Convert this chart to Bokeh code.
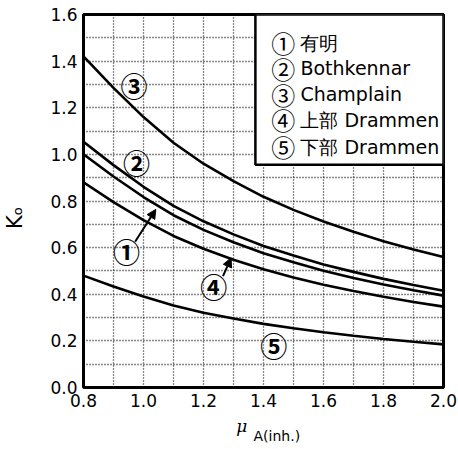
from bokeh.plotting import figure
from bokeh.models import Range1d, FixedTicker, PrintfTickFormatter, LinearAxis, Arrow, NormalHead
from bokeh.core.properties import value
from bokeh.embed import file_html
from bokeh.resources import INLINE

# ---- data ----
mu = [0.8, 0.9, 1.0, 1.1, 1.2, 1.3, 1.4, 1.5, 1.6, 1.7, 1.8, 1.9, 2.0]
k_ariake      = [1.00, 0.905, 0.817, 0.739, 0.676, 0.623, 0.576, 0.537, 0.501, 0.470, 0.442, 0.417, 0.394]
k_bothkennar  = [1.054, 0.954, 0.861, 0.779, 0.713, 0.657, 0.607, 0.566, 0.528, 0.496, 0.466, 0.440, 0.415]
k_champlain   = [1.42, 1.285, 1.16, 1.05, 0.96, 0.885, 0.818, 0.762, 0.712, 0.668, 0.627, 0.592, 0.56]
k_drammen_up  = [0.88, 0.795, 0.718, 0.65, 0.595, 0.548, 0.507, 0.472, 0.441, 0.414, 0.389, 0.367, 0.347]
k_drammen_low = [0.48, 0.433, 0.39, 0.352, 0.321, 0.296, 0.273, 0.254, 0.237, 0.222, 0.208, 0.196, 0.185]

x_ticks = [0.8, 1.0, 1.2, 1.4, 1.6, 1.8, 2.0]
y_ticks = [0.0, 0.2, 0.4, 0.6, 0.8, 1.0, 1.2, 1.4, 1.6]
x_grid = [0.9, 1.0, 1.1, 1.2, 1.3, 1.4, 1.5, 1.6, 1.7, 1.8, 1.9]
y_grid = [0.1, 0.2, 0.3, 0.4, 0.5, 0.6, 0.7, 0.8, 0.9, 1.0, 1.1, 1.2, 1.3, 1.4, 1.5]

legend_marks = ["①", "②", "③", "④", "⑤"]
legend_names = ["有明", "Bothkennar", "Champlain", "上部 Drammen", "下部 Drammen"]
curve_marks = ["③", "②", "①", "④", "⑤"]

NB = "\u00a0"
y_label = "Kₒ" + NB * 5
x_label_main = "μ" + NB * 8
x_label_sub = NB * 6 + "A(inh.)"

# ---- annotation placement ----
mark_x = [0.968, 0.977, 0.943, 1.234, 1.434]
mark_y = [1.297, 0.966, 0.585, 0.432, 0.182]
legend_mark_x = 1.466
legend_name_x = 1.523
legend_y = [1.479, 1.369, 1.258, 1.148, 1.032]

p = figure(width=458, height=449, x_range=Range1d(0.8, 2.0), y_range=Range1d(0.0, 1.6),
           output_backend="svg", toolbar_location=None,
           min_border_left=83, min_border_right=15, min_border_top=14, min_border_bottom=62)
p.background_fill_color = "white"
p.border_fill_color = "white"
p.outline_line_color = "black"
p.outline_line_width = 3
p.outline_line_alpha = 1.0

for ax, ticks in ((p.xaxis[0], x_ticks), (p.yaxis[0], y_ticks)):
    ax.ticker = FixedTicker(ticks=ticks)
    ax.formatter = PrintfTickFormatter(format="%.1f")
    ax.axis_line_color = None
    ax.major_tick_line_color = None
    ax.minor_tick_line_color = None
    ax.major_tick_out = 0
    ax.major_tick_in = 0
    ax.major_label_standoff = 6
    ax.major_label_text_font = "DejaVu Sans"
    ax.major_label_text_font_size = "17px"
    ax.major_label_text_color = "black"
    ax.axis_label_text_color = "black"

p.yaxis[0].axis_label = y_label
p.yaxis[0].axis_label_text_font = "DejaVu Sans"
p.yaxis[0].axis_label_text_font_style = "normal"
p.yaxis[0].axis_label_text_font_size = "21px"
p.yaxis[0].axis_label_standoff = 20

p.xaxis[0].axis_label = x_label_main
p.xaxis[0].axis_label_text_font = "DejaVu Serif"
p.xaxis[0].axis_label_text_font_style = "italic"
p.xaxis[0].axis_label_text_font_size = "17px"
p.xaxis[0].axis_label_standoff = 6

sub_axis = LinearAxis(ticker=FixedTicker(ticks=[]), axis_line_color=None,
                      major_tick_line_color=None, minor_tick_line_color=None,
                      major_tick_out=0, major_tick_in=0, major_label_standoff=0,
                      axis_label=x_label_sub, axis_label_text_font="DejaVu Sans",
                      axis_label_text_font_style="normal", axis_label_text_font_size="14px",
                      axis_label_text_color="black", axis_label_standoff=-11)
p.add_layout(sub_axis, "below")

p.xgrid.ticker = FixedTicker(ticks=x_grid)
p.ygrid.ticker = FixedTicker(ticks=y_grid)
for g in (p.xgrid, p.ygrid):
    g.grid_line_color = "#111111"
    g.grid_line_width = 1.3
    g.grid_line_dash = "1 2"

for ks in (k_ariake, k_bothkennar, k_champlain, k_drammen_up, k_drammen_low):
    p.line(mu, ks, line_color="black", line_width=2.6)

# legend box
p.quad(left=[1.373], right=[2.0], top=[1.6], bottom=[0.955], fill_color="white",
       line_color="black", line_width=2.5)
p.text(x=[legend_mark_x] * 5, y=legend_y, text=legend_marks,
       text_font=value("Noto Sans CJK JP"), text_font_size="24px", text_baseline="middle",
       text_align="center", text_color="black")
p.text(x=[legend_name_x] * 5, y=legend_y, text=legend_names,
       text_font=value("DejaVu Sans"), text_font_size="19px", text_baseline="middle",
       text_align="left", text_color="black")

# circled labels on curves
p.text(x=mark_x, y=mark_y, text=curve_marks, text_font=value("Noto Sans CJK JP"),
       text_font_size="27px", text_font_style="bold", text_baseline="middle",
       text_align="center", text_color="black")

# arrows
p.add_layout(Arrow(end=NormalHead(size=9, fill_color="black", line_color="black"),
                   x_start=0.972, y_start=0.625, x_end=1.041, y_end=0.764,
                   line_color="black", line_width=2))
p.add_layout(Arrow(end=NormalHead(size=9, fill_color="black", line_color="black"),
                   x_start=1.265, y_start=0.478, x_end=1.292, y_end=0.556,
                   line_color="black", line_width=2))

open("out.html", "w").write(file_html(p, INLINE))
